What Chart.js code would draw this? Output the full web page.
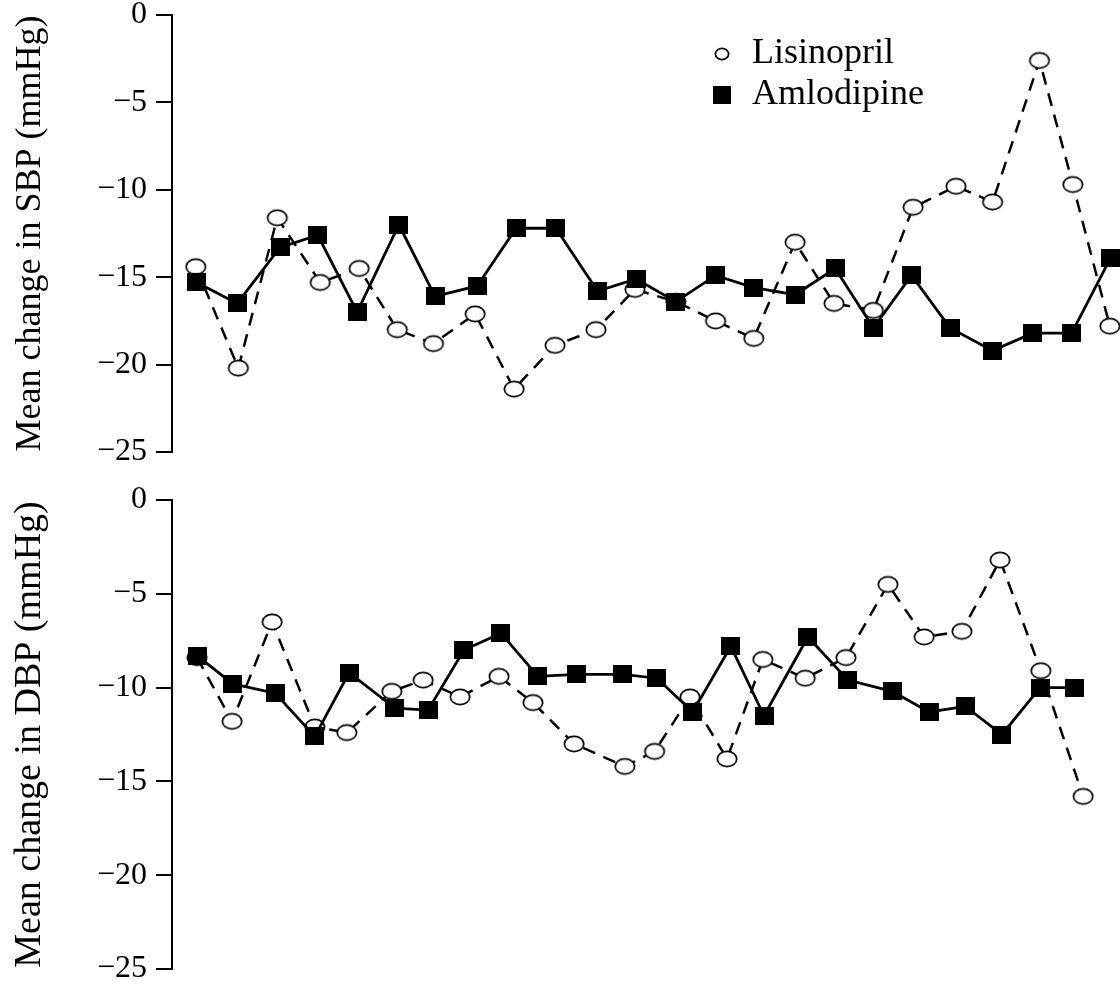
<!DOCTYPE html>
<html>
<head>
<meta charset="utf-8">
<title>Mean change in SBP and DBP</title>
<script src="https://cdn.jsdelivr.net/npm/chart.js@4"></script>
<style>
  html, body { margin: 0; padding: 0; background: #fff; }
  #wrap { position: relative; width: 1120px; height: 985px; overflow: hidden; }
  canvas { position: absolute; left: 0; }
  #sbp-chart { top: 0; }
  #dbp-chart { top: 480px; }
</style>
</head>
<body>
<div id="wrap">
  <canvas id="sbp-chart" width="1120" height="480"></canvas>
  <canvas id="dbp-chart" width="1120" height="505"></canvas>
</div>
<script>
// values: x = visit position, y = mean change (mmHg)
const seriesNames = ['Lisinopril', 'Amlodipine'];
const yTicks = [0, -5, -10, -15, -20, -25];

// systolic panel
const sbpLisinoprilX = [0.97, 2.04, 3.02, 4.10, 5.08, 6.04, 6.95, 8.00, 8.98, 10.01, 11.04, 12.02, 13.05, 14.05, 15.01, 16.05, 17.03, 18.02, 19.02, 20.10, 21.02, 22.20, 23.04, 23.97];
const sbpLisinopril = [-14.4, -20.2, -11.6, -15.3, -14.5, -18.0, -18.8, -17.1, -21.4, -18.9, -18.0, -15.7, -16.4, -17.5, -18.5, -13.0, -16.5, -16.9, -11.0, -9.8, -10.7, -2.6, -9.7, -17.8];
const sbpAmlodipineX = [1.00, 2.01, 3.09, 4.04, 5.03, 6.08, 6.99, 8.05, 9.03, 10.03, 11.08, 12.05, 13.05, 14.05, 15.01, 16.05, 17.06, 18.02, 18.98, 19.95, 21.02, 22.03, 23.01, 23.99];
const sbpAmlodipine = [-15.3, -16.5, -13.3, -12.6, -17.0, -12.0, -16.1, -15.5, -12.2, -12.2, -15.8, -15.1, -16.4, -14.9, -15.6, -16.0, -14.5, -17.9, -14.9, -17.9, -19.2, -18.2, -18.2, -13.9];

// diastolic panel
const dbpLisinoprilX = [1.00, 1.92, 2.97, 4.09, 4.93, 6.11, 6.93, 7.90, 8.92, 9.81, 10.89, 12.22, 13.00, 13.93, 14.90, 15.84, 16.95, 18.02, 19.12, 20.07, 21.06, 22.06, 23.13, 24.24];
const dbpLisinopril = [-8.4, -11.8, -6.5, -12.1, -12.4, -10.2, -9.6, -10.5, -9.4, -10.8, -13.0, -14.2, -13.4, -10.5, -13.8, -8.5, -9.5, -8.4, -4.5, -7.3, -7.0, -3.2, -9.1, -15.8];
const dbpAmlodipineX = [1.00, 1.94, 3.05, 4.09, 4.99, 6.19, 7.06, 8.00, 8.97, 9.94, 10.96, 12.17, 13.06, 14.00, 15.00, 15.87, 17.02, 18.07, 19.23, 20.20, 21.15, 22.11, 23.11, 24.00];
const dbpAmlodipine = [-8.3, -9.8, -10.3, -12.6, -9.2, -11.1, -11.2, -8.0, -7.1, -9.4, -9.3, -9.3, -9.5, -11.3, -7.8, -11.5, -7.3, -9.6, -10.2, -11.3, -11.0, -12.5, -10.0, -10.0];

const serif = 'Liberation Serif, Times New Roman, serif';

function toPoints(xs, ys) {
  return xs.map((x, i) => ({ x: x, y: ys[i] }));
}

// open oval and filled square markers, as in the scan
function ovalMark(rx, ry) {
  const c = document.createElement('canvas');
  c.width = Math.ceil(rx * 2 + 4);
  c.height = Math.ceil(ry * 2 + 4);
  const g = c.getContext('2d');
  g.beginPath();
  g.ellipse(c.width / 2, c.height / 2, rx, ry, 0, 0, Math.PI * 2);
  g.fillStyle = '#fff';
  g.fill();
  g.lineWidth = 1.7;
  g.strokeStyle = '#000';
  g.stroke();
  return c;
}
function boxMark(w, h) {
  const c = document.createElement('canvas');
  c.width = w;
  c.height = h;
  const g = c.getContext('2d');
  g.fillStyle = '#000';
  g.fillRect(0, 0, w, h);
  return c;
}

const circlePoint = ovalMark(9.7, 7.7);
const squarePoint = boxMark(19, 18);
const legendMarks = [ovalMark(6.6, 5.6), boxMark(18, 18)];

// moves the legend into the upper right of the plot
const legendSpot = {
  id: 'legendSpot',
  afterLayout(chart, args, opts) {
    const lg = chart.legend;
    if (!lg || opts.left === undefined) return;
    lg.left = opts.left;
    lg.top = opts.top;
    lg.right = opts.left + 400;
    lg.bottom = opts.top + 130;
  }
};

function yAxis(title, titleSize, titlePad) {
  return {
    position: 'left',
    min: -25,
    max: 0,
    afterBuildTicks: (scale) => { scale.ticks = yTicks.map((v) => ({ value: v })); },
    afterFit: (scale) => {
      scale.width = 172;
      scale.paddingTop = 0;
      scale.paddingBottom = 0;
    },
    ticks: {
      color: '#000',
      padding: 9,
      font: { family: serif, size: 32 },
      callback: (v) => String(v).replace('-', '\u2212'),
    },
    grid: { drawOnChartArea: false, drawTicks: true, tickLength: 16, lineWidth: 2, tickWidth: 2, tickColor: '#000', color: '#000' },
    border: { display: true, color: '#000', width: 2 },
    title: {
      display: true,
      text: title,
      color: '#000',
      font: { family: serif, size: titleSize },
      padding: { top: titlePad, bottom: 0 },
    },
  };
}

function datasets(lisX, lis, amlX, aml) {
  // amlodipine first so its squares sit on top, as in the figure
  return [
    {
      label: seriesNames[1],
      data: toPoints(amlX, aml),
      borderColor: '#000',
      backgroundColor: '#000',
      borderWidth: 2.8,
      pointStyle: squarePoint,
      pointRadius: 9,
      tension: 0,
      clip: false,
    },
    {
      label: seriesNames[0],
      data: toPoints(lisX, lis),
      borderColor: '#000',
      backgroundColor: '#fff',
      borderWidth: 2.5,
      borderDash: [13, 9],
      pointStyle: circlePoint,
      pointRadius: 9,
      tension: 0,
      clip: false,
    },
  ];
}

const sbpChart = new Chart(document.getElementById('sbp-chart'), {
  type: 'line',
  data: { datasets: datasets(sbpLisinoprilX, sbpLisinopril, sbpAmlodipineX, sbpAmlodipine) },
  plugins: [legendSpot],
  options: {
    responsive: false,
    animation: false,
    devicePixelRatio: 1,
    events: [],
    layout: { autoPadding: false, padding: { top: 15, bottom: 28, left: 0, right: 0 } },
    scales: {
      x: { type: 'linear', display: false, min: 0.371, max: 24.226 },
      y: yAxis('Mean change in SBP (mmHg)', 36, 9),
    },
    plugins: {
      tooltip: { enabled: false },
      legendSpot: { left: 705, top: 31 },
      legend: {
        display: true,
        position: 'chartArea',
        align: 'start',
        labels: {
          usePointStyle: true,
          pointStyleWidth: 24,
          padding: 5,
          color: '#000',
          font: { family: serif, size: 36 },
          generateLabels: () => seriesNames.map((name, i) => ({
            text: name,
            pointStyle: legendMarks[i],
            fillStyle: '#000',
            strokeStyle: '#000',
            fontColor: '#000',
            lineWidth: 0,
            hidden: false,
            datasetIndex: 1 - i,
          })),
        },
      },
    },
  },
});

const dbpChart = new Chart(document.getElementById('dbp-chart'), {
  type: 'line',
  data: { datasets: datasets(dbpLisinoprilX, dbpLisinopril, dbpAmlodipineX, dbpAmlodipine) },
  options: {
    responsive: false,
    animation: false,
    devicePixelRatio: 1,
    events: [],
    layout: { autoPadding: false, padding: { top: 20, bottom: 16, left: 0, right: 0 } },
    scales: {
      x: { type: 'linear', display: false, min: 0.344, max: 25.206 },
      y: yAxis('Mean change in DBP (mmHg)', 38, 7),
    },
    plugins: {
      tooltip: { enabled: false },
      legend: { display: false },
    },
  },
});
</script>
</body>
</html>
